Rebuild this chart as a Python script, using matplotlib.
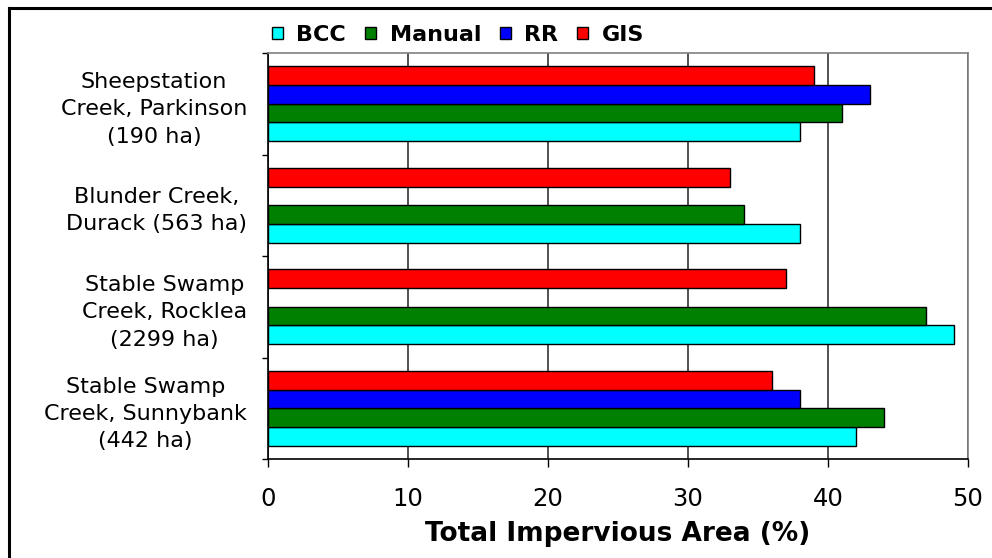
import numpy as np
import matplotlib
matplotlib.use("Agg")
import matplotlib.pyplot as plt
from matplotlib.patches import Patch
from matplotlib.lines import Line2D

# data (top group first)
sites = ["Sheepstation\nCreek, Parkinson\n(190 ha)",
         "Blunder Creek,\nDurack (563 ha)",
         "Stable Swamp\nCreek, Rocklea\n(2299 ha)",
         "Stable Swamp\nCreek, Sunnybank\n(442 ha)"]
series_names = ["BCC", "Manual", "RR", "GIS"]
bcc = [38, 38, 49, 42]
manual = [41, 34, 47, 44]
rr = [43, np.nan, np.nan, 38]   # no RR estimate for Blunder / Rocklea
gis = [39, 33, 37, 36]
colors = ["#00FFFF", "#008000", "#0000FF", "#FF0000"]
x_ticks = [0, 10, 20, 30, 40, 50]

W, H = 992, 558
fig = plt.figure(figsize=(W / 100, H / 100), dpi=100)
ax = fig.add_axes([268 / W, 1 - 459 / H, 700 / W, 406 / H])

y = np.arange(len(sites))
h = 0.184
# y axis is inverted, so BCC gets the largest offset (bottom of group)
offsets = [1.5 * h, 0.5 * h, -0.5 * h, -1.5 * h]
for vals, off, c in zip([bcc, manual, rr, gis], offsets, colors):
    ax.barh(y + off, vals, height=h, color=c, edgecolor="black",
            linewidth=1.0, zorder=3)

ax.set_xlim(0, 50)
ax.set_ylim(len(sites) - 0.5, -0.5)
ax.set_xticks(x_ticks)
ax.set_xticklabels([str(t) for t in x_ticks])
ax.set_yticks(y)
ax.set_yticklabels(sites, ha="right", multialignment="center",
                   linespacing=1.45, fontsize=16)
ax.set_yticks(np.arange(len(sites) + 1) - 0.5, minor=True)

ax.tick_params(axis="y", which="major", length=0, pad=15)
ax.tick_params(axis="y", which="minor", length=4.5, width=1.0, color="black")
ax.tick_params(axis="x", which="major", length=5.5, width=1.0,
               labelsize=17.5, pad=15)

ax.xaxis.grid(True, color="#222222", linewidth=1.1, zorder=0)
ax.set_axisbelow(True)

for s in ["left", "bottom"]:
    ax.spines[s].set_color("black")
    ax.spines[s].set_linewidth(1.2)
for s in ["top", "right"]:
    ax.spines[s].set_color("#808080")
    ax.spines[s].set_linewidth(1.2)

ax.set_xlabel("Total Impervious Area (%)", fontsize=19,
              fontweight="bold", labelpad=7)

handles = [Patch(facecolor=c, edgecolor="black", linewidth=1.0, label=n)
           for c, n in zip(colors, series_names)]
fig.legend(handles=handles, loc="center left",
           bbox_to_anchor=(272 / W, 1 - 35 / H), ncol=4, frameon=False,
           prop={"weight": "bold", "size": 16}, handlelength=0.5,
           handleheight=0.5, handletextpad=0.6, columnspacing=0.85,
           borderpad=0, borderaxespad=0)

# outer chart border (only left and top edges show in the picture)
fig.add_artist(Line2D([9 / W, 9 / W], [0, 1 - 8 / H],
                      transform=fig.transFigure, color="black", lw=2.2))
fig.add_artist(Line2D([9 / W, 1], [1 - 8 / H, 1 - 8 / H],
                      transform=fig.transFigure, color="black", lw=2.2))

fig.savefig("out.png", dpi=100)
